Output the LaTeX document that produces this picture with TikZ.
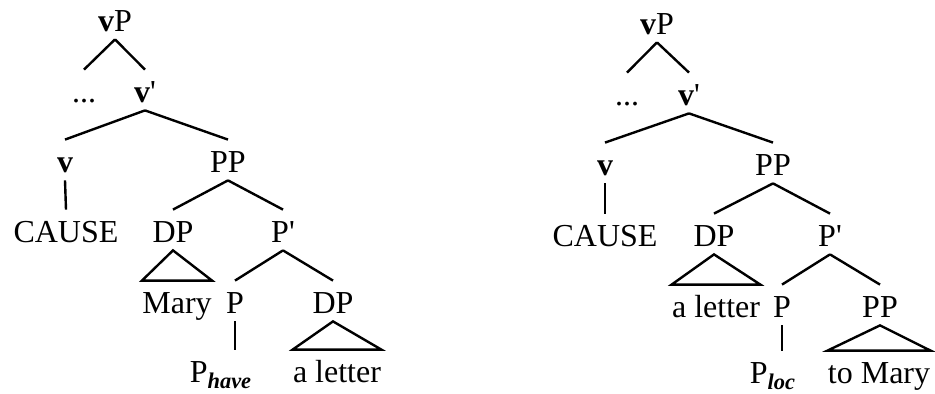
\documentclass[tikz,border=0pt]{standalone}
\usepackage{fontspec}
\setmainfont{Liberation Serif}

\tikzset{
  lab/.style={anchor=base, inner sep=0pt, text height=16.5pt, text depth=3.5pt,
    font=\fontsize{16}{19}\selectfont},
  br/.style={line width=1.2pt},
}
\newcommand{\vb}{\textbf{v}}
\newcommand{\pr}{\textquotesingle}
\newcommand{\sub}[1]{\textsubscript{\textbf{\textit{#1}}}}

\begin{document}
\begin{tikzpicture}[x=0.5pt, y=-0.5pt]
  \useasboundingbox (0,0) rectangle (935,394);
  % left tree: P_have
  \node[lab] (l-vP)     at (115,32)  {\vb P};
  \node[lab] (l-dots)   at (84,103)  {...};
  \node[lab] (l-vbar)   at (145,103) {\vb\pr};
  \node[lab] (l-v)      at (65,173)  {\vb};
  \node[lab] (l-PP)     at (228,173) {PP};
  \node[lab] (l-cause)  at (66,243)  {CAUSE};
  \node[lab] (l-DP)     at (173,243) {DP};
  \node[lab] (l-Pbar)   at (283,243) {P\pr};
  \node[lab] (l-mary)   at (177,314) {Mary};
  \node[lab] (l-P)      at (235,314) {P};
  \node[lab] (l-DP2)    at (333,314) {DP};
  \node[lab] (l-Phave)  at (221,383) {P\sub{have}};
  \node[lab] (l-letter) at (337,383) {a letter};
  % branches
  \draw[br] (l-vP.south) -- (l-dots.north);
  \draw[br] (l-vP.south) -- (l-vbar.north);
  \draw[br] (l-vbar.south) -- (l-v.north);
  \draw[br] (l-vbar.south) -- (l-PP.north);
  \draw[br] (l-v.south) -- (l-cause.north);
  \draw[br] (l-PP.south) -- (l-DP.north);
  \draw[br] (l-PP.south) -- (l-Pbar.north);
  \draw[br] (l-DP.south) -- (l-mary.north west) -- (l-mary.north east) -- cycle;
  \draw[br] (l-Pbar.south) -- (l-P.north);
  \draw[br] (l-Pbar.south) -- (l-DP2.north);
  \draw[br] (l-P.south) -- (l-P.south |- l-Phave.north);
  \draw[br] (l-DP2.south) -- (l-letter.north west) -- (l-letter.north east) -- cycle;

  % right tree: P_loc
  \node[lab] (r-vP)     at (657,35)  {\vb P};
  \node[lab] (r-dots)   at (627,106) {...};
  \node[lab] (r-vbar)   at (689,106) {\vb\pr};
  \node[lab] (r-v)      at (605,176) {\vb};
  \node[lab] (r-PP)     at (773,176) {PP};
  \node[lab] (r-cause)  at (605,247) {CAUSE};
  \node[lab] (r-DP)     at (714,247) {DP};
  \node[lab] (r-Pbar)   at (830,247) {P\pr};
  \node[lab] (r-letter) at (716,318) {a letter};
  \node[lab] (r-P)      at (782,318) {P};
  \node[lab] (r-PP2)    at (880,318) {PP};
  \node[lab] (r-Ploc)   at (773,384) {P\sub{loc}};
  \node[lab] (r-mary)   at (879,384) {to Mary};
  % branches
  \draw[br] (r-vP.south) -- (r-dots.north);
  \draw[br] (r-vP.south) -- (r-vbar.north);
  \draw[br] (r-vbar.south) -- (r-v.north);
  \draw[br] (r-vbar.south) -- (r-PP.north);
  \draw[br] (r-v.south) -- (r-cause.north);
  \draw[br] (r-PP.south) -- (r-DP.north);
  \draw[br] (r-PP.south) -- (r-Pbar.north);
  \draw[br] (r-DP.south) -- (r-letter.north west) -- (r-letter.north east) -- cycle;
  \draw[br] (r-Pbar.south) -- (r-P.north);
  \draw[br] (r-Pbar.south) -- (r-PP2.north);
  \draw[br] (r-P.south) -- (r-P.south |- r-Ploc.north);
  \draw[br] (r-PP2.south) -- (r-mary.north west) -- (r-mary.north east) -- cycle;
\end{tikzpicture}
\end{document}
